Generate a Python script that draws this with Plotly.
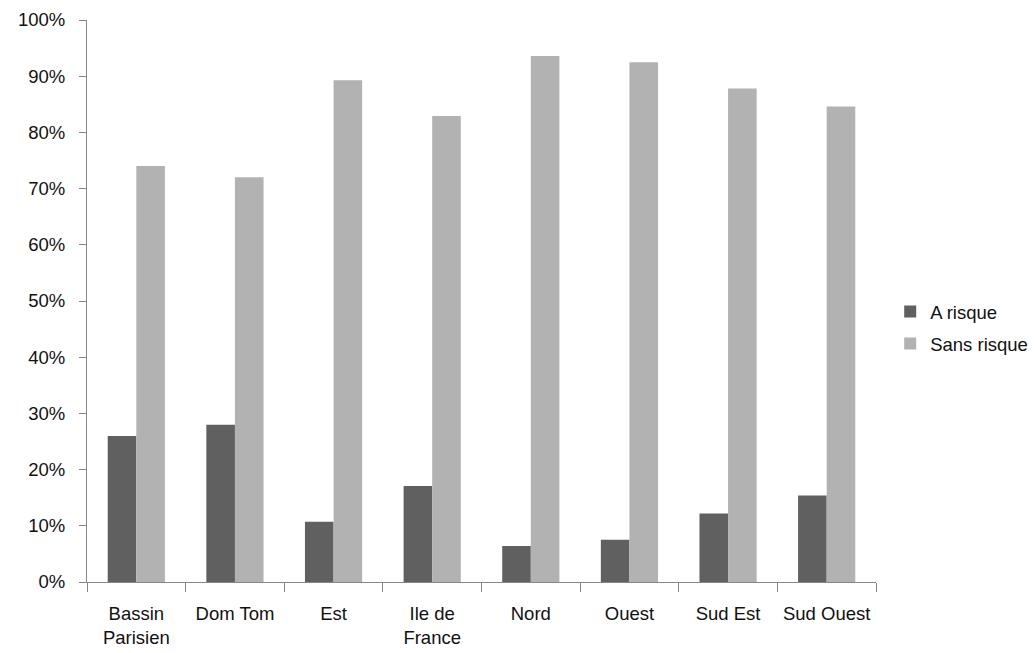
import plotly.graph_objects as go

categories = ["Bassin<br>Parisien", "Dom Tom", "Est", "Ile de<br>France", "Nord", "Ouest", "Sud Est", "Sud Ouest"]
a_risque = [26.0, 28.0, 10.7, 17.1, 6.4, 7.5, 12.2, 15.4]
sans_risque = [74.0, 72.0, 89.3, 82.9, 93.6, 92.5, 87.8, 84.6]
y_ticks = [0, 10, 20, 30, 40, 50, 60, 70, 80, 90, 100]
y_labels = [f"{v}%" for v in y_ticks]

font_family = "Liberation Sans, Arial, sans-serif"
fs = 18.5

fig = go.Figure()
fig.add_trace(go.Bar(name="A risque", x=categories, y=a_risque, legendgroup="a",
                     marker=dict(color="#606060", line=dict(width=0))))
fig.add_trace(go.Bar(name="Sans risque", x=categories, y=sans_risque, legendgroup="b",
                     marker=dict(color="#B2B2B2", line=dict(width=0))))

fig.update_layout(
    width=1036, height=653,
    margin=dict(l=79, r=168, t=11.5, b=78.5, pad=0, autoexpand=False),
    paper_bgcolor="white", plot_bgcolor="white",
    barmode="group", bargap=0.42, bargroupgap=0,
    font=dict(family=font_family, size=fs, color="#111111"),
    legend=dict(x=1.018, xanchor="left", y=0.452, yanchor="middle",
                font=dict(size=fs), bgcolor="rgba(0,0,0,0)", itemwidth=30,
                traceorder="grouped", tracegroupgap=5),
    showlegend=True,
)
fig.update_xaxes(showline=True, linecolor="#868686", linewidth=1,
                 ticks="outside", tickson="boundaries", ticklen=9, tickcolor="#868686",
                 showgrid=False, tickfont=dict(size=fs), ticklabelstandoff=15,
                 automargin=False)
fig.update_yaxes(range=[0, 100], tickvals=y_ticks, ticktext=y_labels,
                 showline=True, linecolor="#868686", linewidth=1,
                 ticks="outside", ticklen=7, tickcolor="#868686",
                 showgrid=False, zeroline=False, tickfont=dict(size=fs),
                 ticklabelstandoff=10, automargin=False)

fig.write_html("out.html")
